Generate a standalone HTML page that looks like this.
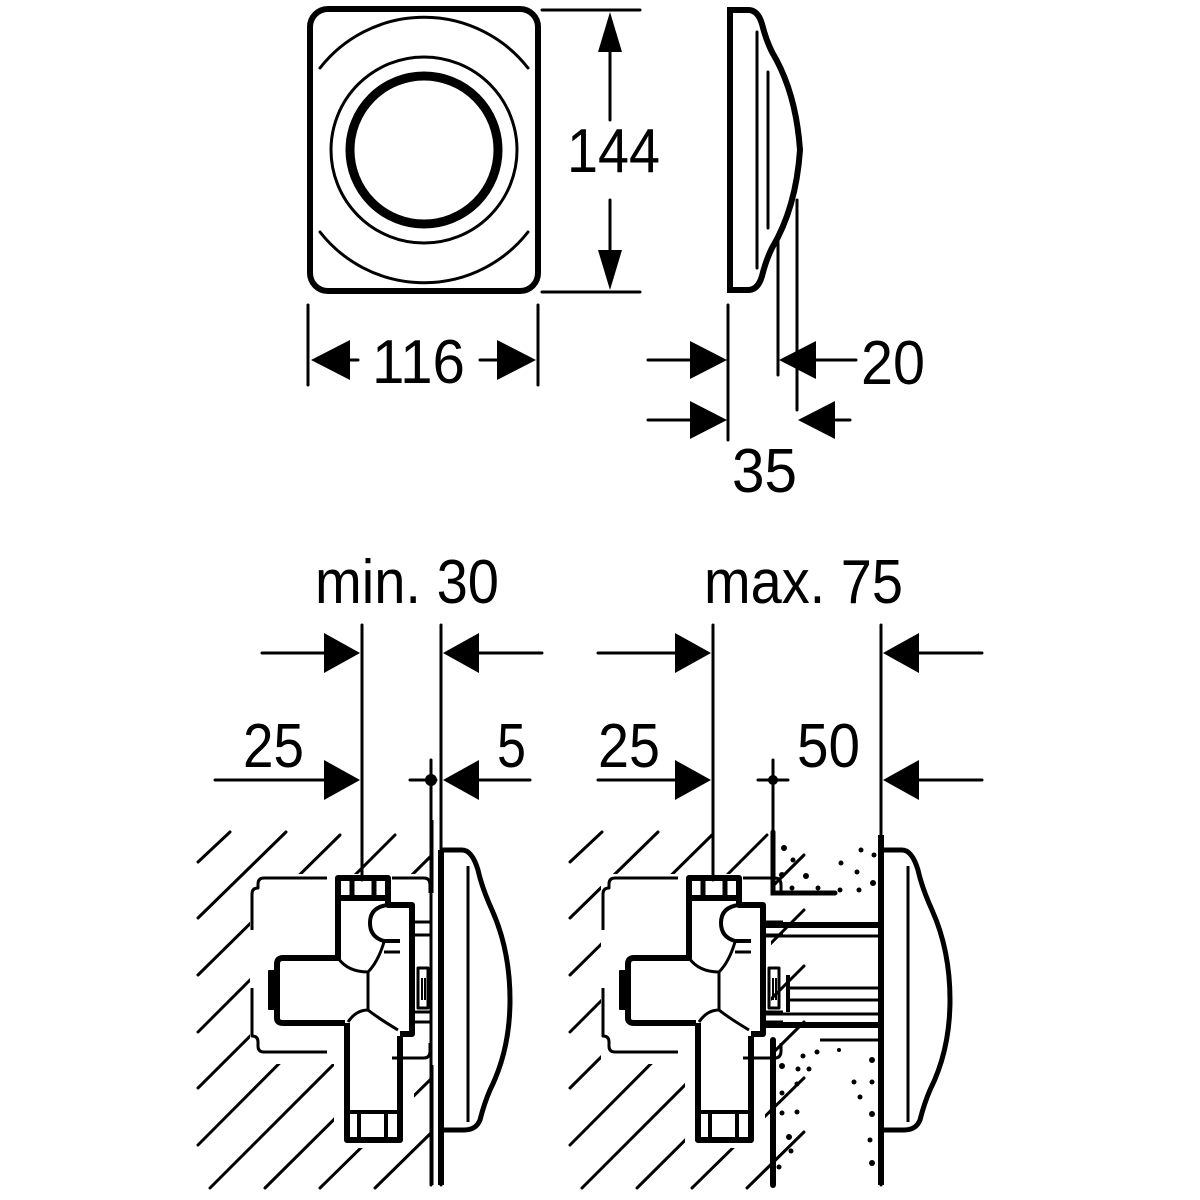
<!DOCTYPE html>
<html><head><meta charset="utf-8"><style>html,body{margin:0;padding:0;background:#fff}svg{display:block}</style></head>
<body>
<svg width="1200" height="1200" viewBox="0 0 1200 1200" xmlns="http://www.w3.org/2000/svg">
<defs>
<mask id="hm">
<rect x="0" y="0" width="1200" height="1200" fill="white"/>
<rect x="250" y="874" width="186" height="190" fill="black"/>
<rect x="334" y="1060" width="80" height="88" fill="black"/>
<rect x="601" y="874" width="170" height="190" fill="black"/>
<rect x="685" y="1060" width="80" height="88" fill="black"/>
</mask>
<g id="valve" fill="none" stroke="#000" stroke-linejoin="round">
 <path d="M327,878 H264 q-6,0 -6,6 v4 q-6,0 -6,6 v36 M252,988 v48 q6,0 6,6 v4 q0,6 6,6 h63" stroke-width="3"/>
 <path d="M392,878 H424 q6,0 6,7 v8 M392,1058 H424 q6,0 6,-7 v-8" stroke-width="3"/>
 <rect x="338" y="878" width="50" height="20" stroke-width="6"/>
 <path d="M352,880 v16 M374,880 v16" stroke-width="5"/>
 <path d="M338,898 V958 H283 q-6,0 -6,6 V1018 q0,5 6,5 H345" stroke-width="6"/>
 <rect x="269" y="971" width="6" height="38" fill="#000" stroke-width="2"/>
 <path d="M347,1023 V1140 H400 V1036" stroke-width="6"/>
 <path d="M349,1112 H398 M359,1112 v26 M386,1112 v26" stroke-width="4"/>
 <path d="M388,898 V905 H412 V1034 H400" stroke-width="6"/>
 <path d="M388,905 q-18,2 -18,18 q0,14 14,18 H400" stroke-width="4"/>
 <path d="M338,958 q10,14 30,14 V1010 q-12,0 -20,12 M368,972 q10,-10 16,-30 M368,1010 q10,8 30,20 M384,952 h16" stroke-width="3"/>
 <path d="M412,922 H432 M412,935 H432 M412,1022 H432 M412,1012 H432" stroke-width="3"/>
 <rect x="418" y="968" width="10" height="40" stroke-width="3"/>
 <path d="M422,978 v22 M425,978 v22" stroke-width="2"/>
</g>
<g id="plate" fill="none" stroke="#000">
 <path d="M442,850 H462 q10,0 16,20 q4,18 14,40 q18,40 18,90 q0,50 -20,90 q-6,14 -10,30 q-4,10 -16,10 H442" stroke-width="5"/>
 <path d="M468,866 V1122" stroke-width="3"/>
</g>
</defs>

<g fill="none" stroke="#000" stroke-linecap="round">
 <rect x="310" y="9" width="228" height="282" rx="18" stroke-width="6"/>
 <path d="M320,68 A132,132 0 0 1 528,68" stroke-width="3"/>
 <path d="M320,232 A132,132 0 0 0 528,232" stroke-width="3"/>
 <circle cx="424" cy="150" r="93" stroke-width="3"/>
 <circle cx="424" cy="150" r="74" stroke-width="9"/>
 <path d="M542,10 H640 M542,292 H640" stroke-width="3"/>
 <path d="M610,48 V120 M610,200 V252" stroke-width="3"/>
 <path d="M308,305 V385 M538,305 V385" stroke-width="3"/>
 <path d="M345,360 H358 M480,360 H500" stroke-width="3"/>
 <path d="M730,10 H748 q10,0 14,14 q4,16 10,28 q24,40 28,98 q-4,58 -28,98 q-6,12 -10,28 q-4,14 -14,14 H730 Z" stroke-width="6"/>
 <path d="M757,32 V268 M768,72 V228" stroke-width="3"/>
 <path d="M778,235 V375 M797,200 V410 M728,305 V440" stroke-width="3"/>
 <path d="M648,360 H692 M815,360 H856 M648,420 H692 M836,420 H850" stroke-width="3"/>

 <path d="M362,625 V880 M441,625 V1185" stroke-width="3"/>
 <path d="M262,653 H330 M475,653 H542 M215,780 H330 M475,780 H530" stroke-width="3"/>
 <path d="M410,780 H436 M431,760 V1185" stroke-width="3"/>
 <path d="M713,625 V880 M881,625 V1185" stroke-width="3"/>
 <path d="M598,653 H682 M915,653 H982 M598,780 H682 M915,780 H982" stroke-width="3"/>
 <path d="M758,780 H788 M773,760 V880" stroke-width="3"/>
 <path d="M773,1040 V1185" stroke-width="6"/>
 <path d="M773,832 V893 H835" stroke-width="5"/>
 <path d="M773,893 H785" stroke-width="3"/>
</g>
<g fill="#000">
 <polygon points="610,12 598,52 622,52"/>
 <polygon points="610,290 598,250 622,250"/>
 <polygon points="311,360 350,340 350,380"/>
 <polygon points="536,360 497,340 497,380"/>
 <polygon points="727,360 690,341 690,379"/>
 <polygon points="779,360 816,341 816,379"/>
 <polygon points="727,420 690,401 690,439"/>
 <polygon points="798,420 835,401 835,439"/>
 <polygon points="360,653 324,633 324,673"/>
 <polygon points="443,653 479,633 479,673"/>
 <polygon points="360,780 324,760 324,800"/>
 <polygon points="443,780 479,760 479,800"/>
 <polygon points="711,653 675,633 675,673"/>
 <polygon points="883,653 919,633 919,673"/>
 <polygon points="711,780 675,760 675,800"/>
 <polygon points="883,780 919,760 919,800"/>
 <circle cx="431" cy="780" r="6"/>
 <circle cx="773" cy="780" r="5"/>
</g>

<g stroke="#000" stroke-width="3" stroke-linecap="round" mask="url(#hm)">
 <g id="hl">
  <path d="M198,862 L230,832"/>
  <path d="M198,918 L286,832"/>
  <path d="M198,975 L340,835"/>
  <path d="M198,1032 L395,835"/>
  <path d="M198,1088 L432,855"/>
  <path d="M198,1145 L432,910"/>
  <path d="M210,1188 L432,966"/>
  <path d="M265,1188 L432,1022"/>
  <path d="M320,1188 L432,1078"/>
  <path d="M375,1188 L432,1132"/>
 </g>
 <use href="#hl" x="372"/>
</g>

<use href="#valve"/>
<use href="#valve" x="351"/>
<use href="#plate"/>
<use href="#plate" x="440"/>
<g fill="none" stroke="#000" stroke-width="3">
 <path d="M441,850 V1185" stroke-width="6"/>
 <path d="M881,835 V1185" stroke-width="6"/>
 <path d="M432,820 V893 M432,1065 V1185"/>
 <path d="M763,925 H880 M763,1025 H880" stroke-width="6"/>
 <path d="M763,936 H880 M763,1014 H880 M790,988 H880 M790,1000 H880"/>
 <path d="M788,975 V1012" stroke-width="4"/>
 <path d="M820,1040 H880"/>
</g>
<g fill="#000">
 <circle cx="784" cy="848" r="3"/><circle cx="793" cy="860" r="2.5"/><circle cx="782" cy="875" r="3"/>
 <circle cx="806" cy="876" r="3"/><circle cx="792" cy="888" r="2.5"/><circle cx="818" cy="888" r="2.5"/>
 <circle cx="840" cy="890" r="2.5"/><circle cx="841" cy="863" r="2.5"/><circle cx="857" cy="872" r="2.5"/>
 <circle cx="861" cy="850" r="2.5"/><circle cx="874" cy="855" r="2.5"/><circle cx="873" cy="883" r="3"/>
 <circle cx="859" cy="890" r="2.5"/>
 <circle cx="803" cy="1056" r="2.5"/><circle cx="817" cy="1052" r="2.5"/><circle cx="839" cy="1050" r="2"/>
 <circle cx="782" cy="1066" r="3"/><circle cx="798" cy="1069" r="2.5"/><circle cx="809" cy="1069" r="2.5"/>
 <circle cx="797" cy="1084" r="2.5"/><circle cx="782" cy="1093" r="2.5"/><circle cx="797" cy="1112" r="2.5"/>
 <circle cx="782" cy="1113" r="2.5"/><circle cx="789" cy="1137" r="3"/><circle cx="791" cy="1151" r="2.5"/>
 <circle cx="779" cy="1167" r="2.5"/><circle cx="872" cy="1060" r="3"/><circle cx="854" cy="1082" r="2.5"/>
 <circle cx="872" cy="1082" r="2.5"/><circle cx="860" cy="1097" r="2.5"/><circle cx="872" cy="1114" r="3"/>
 <circle cx="870" cy="1140" r="2.5"/><circle cx="872" cy="1163" r="3"/>
</g>

<g font-family="'Liberation Sans Narrow','Liberation Sans',sans-serif" font-size="62" fill="#000">
 <text x="567" y="172" textLength="93" lengthAdjust="spacingAndGlyphs">144</text>
 <text x="372" y="383" textLength="93" lengthAdjust="spacingAndGlyphs">116</text>
 <text x="861" y="384" textLength="64" lengthAdjust="spacingAndGlyphs">20</text>
 <text x="732" y="492" textLength="65" lengthAdjust="spacingAndGlyphs">35</text>
 <text x="315" y="603" textLength="184" lengthAdjust="spacingAndGlyphs">min. 30</text>
 <text x="704" y="603" textLength="199" lengthAdjust="spacingAndGlyphs">max. 75</text>
 <text x="243" y="767" textLength="61" lengthAdjust="spacingAndGlyphs">25</text>
 <text x="497" y="767" textLength="29" lengthAdjust="spacingAndGlyphs">5</text>
 <text x="598" y="767" textLength="62" lengthAdjust="spacingAndGlyphs">25</text>
 <text x="797" y="767" textLength="63" lengthAdjust="spacingAndGlyphs">50</text>
</g>
</svg>
</body></html>
